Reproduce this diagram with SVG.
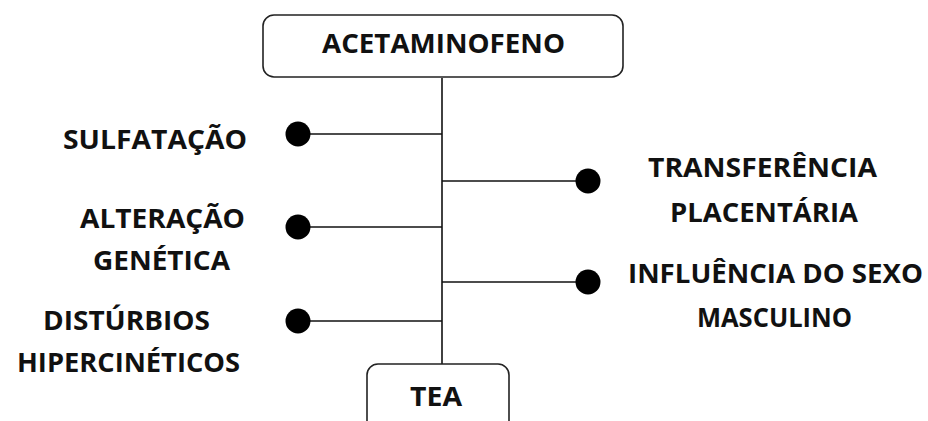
<svg xmlns="http://www.w3.org/2000/svg" width="928" height="421" viewBox="0 0 928 421">
<style>
  .box{fill:#fff;stroke:#222;stroke-width:1.6}
  .ln{stroke:#111;stroke-width:1.6;fill:none}
  .dot{fill:#000}
  text{font-family:"Open Sans","Liberation Sans",sans-serif;font-weight:bold;font-size:27px;fill:#111;text-anchor:middle}
</style>
<rect width="928" height="421" fill="#fff"/>
<g id="connectors">
  <line class="ln" x1="442" y1="78" x2="442" y2="364"/>
  <line class="ln" x1="298" y1="134" x2="442" y2="134"/>
  <line class="ln" x1="298" y1="227" x2="442" y2="227"/>
  <line class="ln" x1="298" y1="321" x2="442" y2="321"/>
  <line class="ln" x1="442" y1="181" x2="588" y2="181"/>
  <line class="ln" x1="442" y1="282" x2="588" y2="282"/>
  <circle class="dot" cx="298" cy="134" r="12.5"/>
  <circle class="dot" cx="298" cy="227" r="12.5"/>
  <circle class="dot" cx="298" cy="321" r="12.5"/>
  <circle class="dot" cx="588" cy="181" r="12.5"/>
  <circle class="dot" cx="588" cy="282" r="12.5"/>
</g>
<g id="acetaminofeno">
  <rect class="box" x="263" y="15" width="360" height="62" rx="11"/>
  <text x="443.5" y="53" textLength="243" lengthAdjust="spacingAndGlyphs">ACETAMINOFENO</text>
</g>
<g id="tea">
  <rect class="box" x="367" y="364" width="142" height="80" rx="11"/>
  <text x="436" y="406" textLength="52" lengthAdjust="spacingAndGlyphs">TEA</text>
</g>
<g id="sulfatacao">
  <text x="155" y="149" textLength="184" lengthAdjust="spacingAndGlyphs">SULFATAÇÃO</text>
</g>
<g id="alteracao-genetica">
  <text x="162.5" y="228" textLength="165" lengthAdjust="spacingAndGlyphs">ALTERAÇÃO</text>
  <text x="161.5" y="270" textLength="137" lengthAdjust="spacingAndGlyphs">GENÉTICA</text>
</g>
<g id="disturbios">
  <text x="126.5" y="330" textLength="167" lengthAdjust="spacingAndGlyphs">DISTÚRBIOS</text>
  <text x="128.5" y="372" textLength="223" lengthAdjust="spacingAndGlyphs">HIPERCINÉTICOS</text>
</g>
<g id="transferencia">
  <text x="762.5" y="177" textLength="229" lengthAdjust="spacingAndGlyphs">TRANSFERÊNCIA</text>
  <text x="764" y="222" textLength="188" lengthAdjust="spacingAndGlyphs">PLACENTÁRIA</text>
</g>
<g id="influencia">
  <text x="775.5" y="283" textLength="295" lengthAdjust="spacingAndGlyphs">INFLUÊNCIA DO SEXO</text>
  <text x="774.5" y="327" textLength="155" lengthAdjust="spacingAndGlyphs">MASCULINO</text>
</g>
</svg>
